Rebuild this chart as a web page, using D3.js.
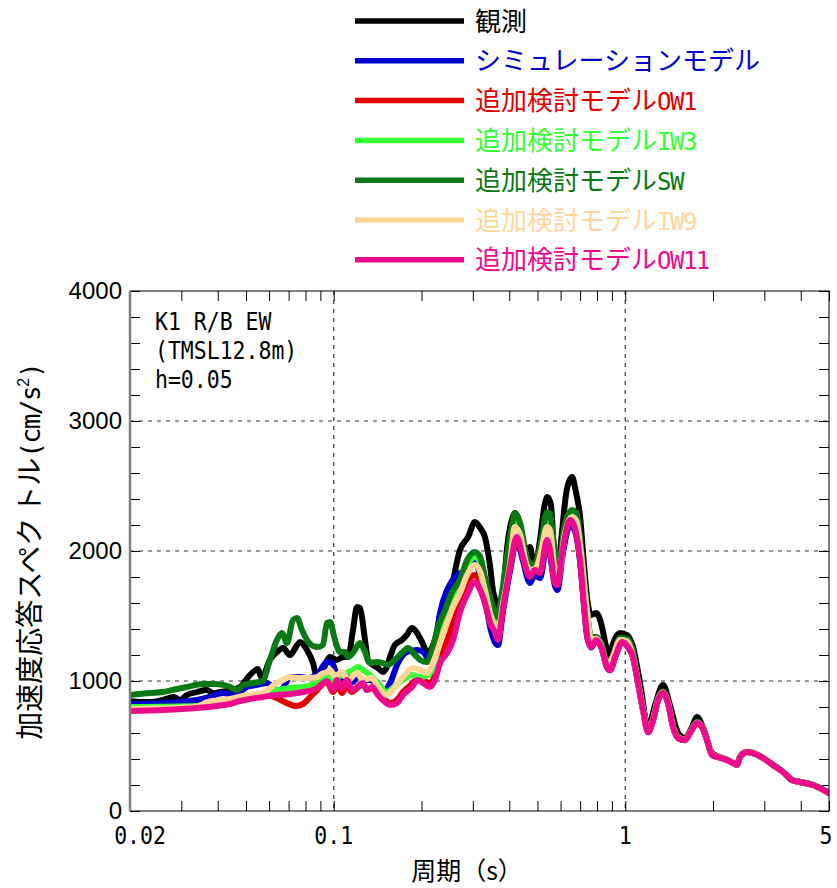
<!DOCTYPE html>
<html>
<head>
<meta charset="utf-8">
<script src="https://cdn.jsdelivr.net/npm/d3@7"></script>
<style>
  html, body { margin: 0; padding: 0; background: #fff; }
  svg { display: block; }
</style>
</head>
<body>
<svg id="chart" width="837" height="888"></svg>
<script>
// ---- Series labels and colours (legend order = drawing order) ----
const seriesNames = [
  "観測",
  "シミュレーションモデル",
  "追加検討モデルOW1",
  "追加検討モデルIW3",
  "追加検討モデルSW",
  "追加検討モデルIW9",
  "追加検討モデルOW11"
];
const seriesColors = ["#000000", "#0000cc", "#e00000", "#33ff33", "#0b7a15", "#ffd597", "#ee0a8c"];

// ---- Spectra: [period (s), acceleration (cm/s2)] ----
const observed = [
  [0.0200,845],[0.0234,838],[0.0259,854],[0.0283,877],[0.0297,854],[0.0313,892],[0.0339,915],
  [0.0367,930],[0.0385,908],[0.0407,915],[0.0441,930],[0.0477,954],[0.0516,1046],[0.0549,1092],
  [0.0566,1023],[0.0604,1162],[0.0638,1223],[0.0670,1254],[0.0708,1200],[0.0749,1277],[0.0766,1300],
  [0.0810,1238],[0.0849,1138],[0.0876,1030],[0.0918,1085],[0.0971,1185],[0.1026,1162],[0.1076,1185],
  [0.1120,1185],[0.1164,1392],[0.1202,1570],[0.1230,1562],[0.1280,1315],[0.1310,1162],[0.1364,1123],
  [0.1418,1100],[0.1475,1069],[0.1520,1108],[0.1560,1185],[0.1620,1277],[0.1714,1315],[0.1780,1354],
  [0.1855,1408],[0.1930,1370],[0.2010,1300],[0.2090,1223],[0.2170,1254],[0.2260,1370],[0.2370,1546],
  [0.2510,1677],[0.2710,2008],[0.2890,2108],[0.3050,2223],[0.3180,2177],[0.3300,2108],[0.3440,1877],
  [0.3520,1690],[0.3580,1620],[0.3660,1400],[0.3720,1430],[0.3800,1623],[0.3925,2008],[0.4080,2238],
  [0.4180,2292],[0.4310,2238],[0.4450,2060],[0.4590,2015],[0.4710,2030],[0.4800,1950],[0.4890,1854],
  [0.5100,2085],[0.5290,2354],[0.5410,2415],[0.5560,2354],[0.5720,1930],[0.5850,1800],[0.6030,2085],
  [0.6300,2470],[0.6570,2570],[0.6750,2470],[0.7000,2262],[0.7230,1877],[0.7410,1623],[0.7640,1508],
  [0.7950,1523],[0.8200,1469],[0.8660,1238],[0.8870,1177],[0.9050,1277],[0.9600,1370],[1.0140,1354],
  [1.0630,1262],[1.1240,985],[1.1970,646],[1.2660,815],[1.3480,970],[1.4230,815],[1.5180,600],
  [1.6040,562],[1.6900,640],[1.7640,723],[1.8500,640],[1.9850,446],[2.0820,420],[2.2350,395],
  [2.3430,369],[2.4180,354],[2.4770,415],[2.6170,454],[2.7440,446],[2.9700,408],[3.2140,354],
  [3.4780,300],[3.7350,238],[3.9780,223],[4.4090,200],[5.0000,138]
];

const simulation = [
  [0.0200,823],[0.0259,830],[0.0339,854],[0.0376,877],[0.0417,907],[0.0452,892],[0.0477,915],
  [0.0503,954],[0.0545,970],[0.0588,985],[0.0619,954],[0.0643,923],[0.0670,946],[0.0708,1030],
  [0.0766,1030],[0.0810,1023],[0.0876,1046],[0.0948,1146],[0.0987,1138],[0.1026,1046],[0.1067,1008],
  [0.1110,1046],[0.1164,992],[0.1211,1046],[0.1260,1008],[0.1330,1008],[0.1418,970],[0.1500,930],
  [0.1560,985],[0.1660,1138],[0.1783,1223],[0.1930,1238],[0.2025,1223],[0.2139,1162],[0.2225,1292],
  [0.2315,1523],[0.2447,1700],[0.2607,1800],[0.2710,1830],[0.2866,1838],[0.3050,1930],[0.3180,1800],
  [0.3300,1646],[0.3440,1415],[0.3570,1300],[0.3660,1277],[0.3800,1523],[0.4030,1854],[0.4244,2085],
  [0.4450,1930],[0.4710,1754],[0.4890,1815],[0.5100,1792],[0.5390,2046],[0.5520,1970],[0.5730,1738],
  [0.5850,1700],[0.6100,1970],[0.6470,2200],[0.6700,2160],[0.7000,1915],[0.7230,1565],[0.7410,1335],
  [0.7640,1258],[0.7950,1312],[0.8270,1260],[0.8660,1105],[0.8870,1082],[0.9230,1183],[0.9750,1298],
  [1.0220,1260],[1.0630,1183],[1.1060,983],[1.1510,776],[1.1970,606],[1.2460,698],[1.2960,852],
  [1.3480,906],[1.4020,828],[1.4590,645],[1.5180,561],[1.6040,545],[1.6680,599],[1.7640,676],
  [1.8340,645],[1.9080,545],[1.9850,431],[2.0820,415],[2.2350,392],[2.3430,369],[2.4180,354],
  [2.4770,415],[2.6170,454],[2.7440,446],[2.9700,408],[3.2140,354],[3.4780,300],[3.7350,238],
  [3.9780,223],[4.4090,200],[5.0000,138]
];

const modelOW1 = [
  [0.0200,777],[0.0339,800],[0.0397,838],[0.0441,846],[0.0528,885],[0.0570,900],[0.0638,869],
  [0.0691,830],[0.0740,808],[0.0784,823],[0.0842,892],[0.0876,930],[0.0910,970],[0.0948,992],
  [0.0995,915],[0.1026,970],[0.1067,907],[0.1110,962],[0.1155,915],[0.1202,946],[0.1260,977],
  [0.1300,930],[0.1353,946],[0.1418,900],[0.1500,854],[0.1560,830],[0.1647,854],[0.1727,915],
  [0.1855,977],[0.1946,1023],[0.2025,1008],[0.2139,985],[0.2225,1046],[0.2315,1200],[0.2447,1315],
  [0.2566,1454],[0.2710,1623],[0.2866,1761],[0.3050,1815],[0.3180,1761],[0.3300,1646],[0.3440,1485],
  [0.3570,1392],[0.3660,1331],[0.3800,1562],[0.4030,1885],[0.4244,2108],[0.4450,1962],[0.4710,1808],
  [0.4890,1862],[0.5100,1838],[0.5390,2085],[0.5520,2015],[0.5730,1762],[0.5850,1746],[0.6100,2015],
  [0.6470,2246],[0.6700,2192],[0.7000,1938],[0.7230,1572],[0.7410,1340],[0.7640,1263],[0.7950,1316],
  [0.8270,1263],[0.8660,1109],[0.8870,1086],[0.9230,1186],[0.9750,1301],[1.0220,1263],[1.0630,1186],
  [1.1060,986],[1.1510,778],[1.1970,609],[1.2460,701],[1.2960,855],[1.3480,909],[1.4020,831],
  [1.4590,647],[1.5180,563],[1.6040,547],[1.6680,601],[1.7640,678],[1.8340,647],[1.9080,547],
  [1.9850,432],[2.0820,415],[2.2350,392],[2.3430,369],[2.4180,354],[2.4770,415],[2.6170,454],
  [2.7440,446],[2.9700,408],[3.2140,354],[3.4780,300],[3.7350,238],[3.9780,223],[4.4090,200],
  [5.0000,138]
];

const modelIW3 = [
  [0.0200,800],[0.0339,808],[0.0417,830],[0.0441,838],[0.0477,862],[0.0570,892],[0.0638,930],
  [0.0708,946],[0.0784,954],[0.0876,985],[0.0948,1038],[0.0995,1008],[0.1050,1038],[0.1110,1062],
  [0.1164,1085],[0.1211,1108],[0.1260,1085],[0.1330,1046],[0.1418,985],[0.1520,915],[0.1595,946],
  [0.1727,1008],[0.1855,1046],[0.1980,1030],[0.2106,1046],[0.2225,1146],[0.2315,1338],[0.2447,1485],
  [0.2566,1623],[0.2710,1754],[0.2866,1892],[0.3050,1954],[0.3180,1915],[0.3300,1761],[0.3440,1600],
  [0.3570,1469],[0.3660,1431],[0.3800,1623],[0.4030,1930],[0.4180,2254],[0.4360,2177],[0.4590,1930],
  [0.4770,1869],[0.4965,1908],[0.5160,2046],[0.5390,2254],[0.5520,2238],[0.5730,1930],[0.5900,1869],
  [0.6180,2146],[0.6570,2277],[0.6800,2254],[0.7060,1985],[0.7350,1585],[0.7640,1323],[0.7950,1331],
  [0.8270,1277],[0.8660,1131],[0.9050,1185],[0.9600,1323],[1.0140,1315],[1.0630,1200],[1.1060,995],
  [1.1510,786],[1.1970,616],[1.2460,708],[1.2960,862],[1.3480,916],[1.4020,838],[1.4590,652],
  [1.5180,567],[1.6040,550],[1.6680,604],[1.7640,682],[1.8340,650],[1.9080,550],[1.9850,434],
  [2.0820,417],[2.2350,393],[2.3430,370],[2.4180,355],[2.4770,416],[2.6170,455],[2.7440,447],
  [2.9700,409],[3.2140,355],[3.4780,301],[3.7350,239],[3.9780,224],[4.4090,201],[5.0000,139]
];

const modelSW = [
  [0.0200,892],[0.0234,907],[0.0259,915],[0.0289,938],[0.0313,954],[0.0356,977],[0.0385,977],
  [0.0417,970],[0.0441,954],[0.0466,930],[0.0489,970],[0.0528,985],[0.0570,1000],[0.0604,1162],
  [0.0638,1315],[0.0664,1370],[0.0691,1292],[0.0725,1470],[0.0749,1485],[0.0778,1392],[0.0810,1315],
  [0.0849,1270],[0.0883,1262],[0.0918,1277],[0.0948,1446],[0.0971,1454],[0.1010,1315],[0.1050,1223],
  [0.1093,1223],[0.1120,1185],[0.1164,1215],[0.1230,1292],[0.1280,1223],[0.1330,1138],[0.1407,1146],
  [0.1475,1138],[0.1534,1123],[0.1620,1162],[0.1727,1223],[0.1797,1254],[0.1900,1200],[0.1980,1162],
  [0.2090,1146],[0.2190,1262],[0.2280,1415],[0.2410,1546],[0.2546,1685],[0.2710,1777],[0.2866,1930],
  [0.3050,1992],[0.3180,1954],[0.3300,1800],[0.3440,1646],[0.3570,1523],[0.3630,1492],[0.3775,1677],
  [0.3925,1954],[0.4080,2185],[0.4180,2292],[0.4360,2215],[0.4590,1954],[0.4770,1892],[0.4965,1930],
  [0.5160,2085],[0.5390,2300],[0.5520,2285],[0.5630,2138],[0.5810,1930],[0.5970,1908],[0.6180,2185],
  [0.6570,2315],[0.6800,2292],[0.7060,2008],[0.7350,1600],[0.7640,1338],[0.7950,1338],[0.8270,1292],
  [0.8660,1138],[0.9050,1185],[0.9600,1330],[1.0140,1325],[1.0630,1230],[1.1060,1000],[1.1510,790],
  [1.1970,620],[1.2460,712],[1.2960,866],[1.3480,920],[1.4020,842],[1.4590,656],[1.5180,570],
  [1.6040,552],[1.6680,606],[1.7640,684],[1.8340,652],[1.9080,552],[1.9850,436],[2.0820,418],
  [2.2350,394],[2.3430,371],[2.4180,356],[2.4770,417],[2.6170,456],[2.7440,448],[2.9700,410],
  [3.2140,356],[3.4780,301],[3.7350,239],[3.9780,224],[4.4090,201],[5.0000,139]
];

const modelIW9 = [
  [0.0200,785],[0.0339,800],[0.0367,838],[0.0441,862],[0.0489,885],[0.0570,907],[0.0638,985],
  [0.0670,1008],[0.0708,1030],[0.0749,1023],[0.0810,1023],[0.0876,1030],[0.0910,1054],[0.0948,1069],
  [0.0971,1085],[0.1010,1038],[0.1067,1069],[0.1120,1008],[0.1202,1062],[0.1260,1008],[0.1353,1023],
  [0.1418,954],[0.1520,892],[0.1595,930],[0.1727,1030],[0.1870,1100],[0.1980,1085],[0.2090,1062],
  [0.2190,1138],[0.2315,1292],[0.2447,1446],[0.2566,1570],[0.2710,1677],[0.2866,1815],[0.3050,1892],
  [0.3180,1838],[0.3300,1700],[0.3440,1523],[0.3570,1415],[0.3660,1377],[0.3800,1585],[0.4030,1908],
  [0.4180,2185],[0.4360,2123],[0.4590,1892],[0.4770,1854],[0.4965,1877],[0.5160,2008],[0.5390,2185],
  [0.5520,2160],[0.5730,1854],[0.5900,1800],[0.6180,2108],[0.6570,2262],[0.6800,2230],[0.7060,1970],
  [0.7350,1585],[0.7640,1318],[0.7950,1325],[0.8270,1270],[0.8660,1120],[0.9050,1180],[0.9600,1315],
  [1.0140,1305],[1.0630,1192],[1.1060,990],[1.1510,780],[1.1970,612],[1.2460,704],[1.2960,858],
  [1.3480,912],[1.4020,834],[1.4590,649],[1.5180,565],[1.6040,548],[1.6680,602],[1.7640,679],
  [1.8340,648],[1.9080,548],[1.9850,433],[2.0820,416],[2.2350,392],[2.3430,369],[2.4180,354],
  [2.4770,415],[2.6170,454],[2.7440,446],[2.9700,408],[3.2140,354],[3.4780,300],[3.7350,238],
  [3.9780,223],[4.4090,200],[5.0000,138]
];

const modelOW11 = [
  [0.0200,770],[0.0259,777],[0.0339,792],[0.0397,808],[0.0441,823],[0.0477,846],[0.0516,862],
  [0.0570,877],[0.0638,892],[0.0708,900],[0.0784,915],[0.0876,946],[0.0910,977],[0.0948,1000],
  [0.0995,930],[0.1026,1008],[0.1067,946],[0.1110,1008],[0.1155,930],[0.1202,954],[0.1260,985],
  [0.1300,930],[0.1353,954],[0.1418,892],[0.1500,838],[0.1560,815],[0.1647,830],[0.1727,892],
  [0.1855,954],[0.1946,1008],[0.2025,985],[0.2139,954],[0.2225,1008],[0.2315,1138],[0.2447,1215],
  [0.2566,1315],[0.2710,1530],[0.2866,1662],[0.3050,1761],[0.3180,1700],[0.3300,1600],[0.3440,1446],
  [0.3570,1377],[0.3660,1315],[0.3800,1546],[0.4030,1877],[0.4244,2108],[0.4450,1954],[0.4710,1800],
  [0.4890,1854],[0.5100,1830],[0.5390,2085],[0.5520,2008],[0.5730,1754],[0.5850,1738],[0.6100,2008],
  [0.6470,2238],[0.6700,2185],[0.7000,1930],[0.7230,1570],[0.7410,1338],[0.7640,1262],[0.7950,1315],
  [0.8270,1262],[0.8660,1108],[0.8870,1085],[0.9230,1185],[0.9750,1300],[1.0220,1262],[1.0630,1185],
  [1.1060,985],[1.1510,777],[1.1970,608],[1.2460,700],[1.2960,854],[1.3480,908],[1.4020,830],
  [1.4590,646],[1.5180,562],[1.6040,546],[1.6680,600],[1.7640,677],[1.8340,646],[1.9080,546],
  [1.9850,431],[2.0820,415],[2.2350,392],[2.3430,369],[2.4180,354],[2.4770,415],[2.6170,454],
  [2.7440,446],[2.9700,408],[3.2140,354],[3.4780,300],[3.7350,238],[3.9780,223],[4.4090,200],
  [5.0000,138]
];

const seriesData = [observed, simulation, modelOW1, modelIW3, modelSW, modelIW9, modelOW11];

// ---- Axis ticks and labels ----
const periodTicks = [0.02,0.03,0.04,0.05,0.06,0.07,0.08,0.09,0.1,0.2,0.3,0.4,0.5,0.6,0.7,0.8,0.9,1,2,3,4,5];
const periodLabels = [[0.02, "0.02"], [0.1, "0.1"], [1, "1"], [5, "5"]];
const accelTicks = [0,200,400,600,800,1000,1200,1400,1600,1800,2000,2200,2400,2600,2800,3000,3200,3400,3600,3800,4000];
const accelLabels = [0, 1000, 2000, 3000, 4000];
const gridPeriods = [0.1, 1];
const gridAccels = [1000, 2000, 3000];
const noteLines = ["K1 R/B EW", "(TMSL12.8m)", "h=0.05"];

// ---- Layout ----
const plot = { left: 130, right: 829, top: 291, bottom: 811 };
const svg = d3.select("#chart");
const cjkFont = "'Noto Sans CJK JP', sans-serif";
const monoFont = "'DejaVu Sans Mono', monospace";
const sansFont = "'Liberation Sans', Arial, sans-serif";

const x = d3.scaleLog().domain([0.02, 5]).range([plot.left, plot.right]);
const y = d3.scaleLinear().domain([0, 4000]).range([plot.bottom, plot.top]);

// clip for the curves
svg.append("defs").append("clipPath").attr("id", "plotClip")
  .append("rect")
  .attr("x", plot.left).attr("y", plot.top)
  .attr("width", plot.right - plot.left).attr("height", plot.bottom - plot.top);

// dashed grid
const grid = svg.append("g").attr("stroke", "#333").attr("stroke-width", 1.2).attr("stroke-dasharray", "4,5");
grid.selectAll("line.h").data(gridAccels).join("line")
  .attr("x1", plot.left).attr("x2", plot.right)
  .attr("y1", d => y(d)).attr("y2", d => y(d));
grid.selectAll("line.v").data(gridPeriods).join("line")
  .attr("y1", plot.top).attr("y2", plot.bottom)
  .attr("x1", d => x(d)).attr("x2", d => x(d));

// inward ticks on all four sides
const tickLen = 10;
function styleAxis(g) {
  g.select(".domain").remove();
  g.selectAll(".tick line").attr("stroke", "#000").attr("stroke-width", 1);
  g.selectAll(".tick text").remove();
}
svg.append("g").attr("transform", `translate(0,${plot.bottom})`)
  .call(d3.axisBottom(x).tickValues(periodTicks).tickSize(-tickLen).tickFormat(""))
  .call(styleAxis);
svg.append("g").attr("transform", `translate(0,${plot.top})`)
  .call(d3.axisTop(x).tickValues(periodTicks).tickSize(-tickLen).tickFormat(""))
  .call(styleAxis);
svg.append("g").attr("transform", `translate(${plot.left},0)`)
  .call(d3.axisLeft(y).tickValues(accelTicks).tickSize(-tickLen).tickFormat(""))
  .call(styleAxis);
svg.append("g").attr("transform", `translate(${plot.right},0)`)
  .call(d3.axisRight(y).tickValues(accelTicks).tickSize(-tickLen).tickFormat(""))
  .call(styleAxis);

// spectra
const line = d3.line()
  .x(d => x(d[0]))
  .y(d => y(d[1]))
  .curve(d3.curveMonotoneX);

svg.append("g").attr("clip-path", "url(#plotClip)")
  .selectAll("path").data(seriesData).join("path")
  .attr("d", d => line(d))
  .attr("fill", "none")
  .attr("stroke", (d, i) => seriesColors[i])
  .attr("stroke-width", 6)
  .attr("stroke-linejoin", "round")
  .attr("stroke-linecap", "round");

// frame
svg.append("rect")
  .attr("x", plot.left).attr("y", plot.top)
  .attr("width", plot.right - plot.left).attr("height", plot.bottom - plot.top)
  .attr("fill", "none").attr("stroke", "#000").attr("stroke-width", 1);
svg.append("line")
  .attr("x1", plot.left).attr("x2", plot.left)
  .attr("y1", plot.top).attr("y2", plot.bottom)
  .attr("stroke", "#808080").attr("stroke-width", 2.5);

// y tick labels
const yLab = svg.append("g").attr("transform", `translate(${plot.left},0)`)
  .call(d3.axisLeft(y).tickValues(accelLabels).tickSize(0).tickPadding(8).tickFormat(d3.format("d")));
yLab.select(".domain").remove();
yLab.selectAll("text")
  .attr("font-family", sansFont)
  .attr("font-size", 24).attr("fill", "#000");

// x tick labels (narrow gothic look)
svg.append("g").selectAll("text").data(periodLabels).join("text")
  .attr("transform", (d, i) => {
    let px = x(d[0]);
    if (i === 0) px += 10;
    if (i === periodLabels.length - 1) px -= 3;
    return `translate(${px},${plot.bottom + 33}) scale(1,1.18)`;
  })
  .attr("text-anchor", "middle")
  .attr("font-family", monoFont)
  .attr("font-size", 21.5)
  .attr("fill", "#000")
  .text(d => d[1]);

// annotation inside the plot
svg.append("g").selectAll("text").data(noteLines).join("text")
  .attr("transform", (d, i) => `translate(${plot.left + 25},${330 + i * 29}) scale(1,1.15)`)
  .attr("font-family", monoFont)
  .attr("font-size", 21.5)
  .attr("fill", "#000")
  .text(d => d);

// axis titles
svg.append("text")
  .attr("x", 467).attr("y", 880)
  .attr("text-anchor", "middle")
  .attr("font-family", cjkFont)
  .attr("font-size", 25)
  .attr("fill", "#000")
  .text("周期（s）");

const yTitle = svg.append("text")
  .attr("transform", `translate(40,${(plot.top + plot.bottom) / 2}) rotate(-90)`)
  .attr("text-anchor", "middle")
  .attr("font-family", cjkFont)
  .attr("font-size", 28)
  .attr("fill", "#000");
yTitle.append("tspan").text("加速度応答スペク");
yTitle.append("tspan").attr("dx", 4).text("トル");
yTitle.append("tspan").attr("font-family", monoFont).attr("font-size", 26).attr("letter-spacing", -1.5).text("(cm/s");
yTitle.append("tspan").attr("font-family", sansFont).attr("font-size", 16).attr("dy", -11).text("2");
yTitle.append("tspan").attr("font-family", monoFont).attr("font-size", 26).attr("dy", 11).text(")");

// legend: kana/kanji part in the CJK face, trailing latin part in a narrow mono face
const legend = svg.append("g");
const legendItems = legend.selectAll("g").data(seriesNames).join("g")
  .attr("transform", (d, i) => `translate(0,${21 + i * 39.8})`);
legendItems.append("line")
  .attr("x1", 355).attr("x2", 464)
  .attr("stroke", (d, i) => seriesColors[i])
  .attr("stroke-width", 5.5);
const legendText = legendItems.append("text")
  .attr("x", 475).attr("y", 9.5)
  .attr("font-family", cjkFont)
  .attr("font-size", 26)
  .attr("fill", (d, i) => seriesColors[i]);
legendText.append("tspan").text(d => d.replace(/[A-Za-z0-9]+$/, ""));
legendText.append("tspan")
  .attr("font-family", monoFont)
  .attr("font-size", 24)
  .attr("letter-spacing", -1.5)
  .text(d => (d.match(/[A-Za-z0-9]+$/) || [""])[0]);
</script>
</body>
</html>
